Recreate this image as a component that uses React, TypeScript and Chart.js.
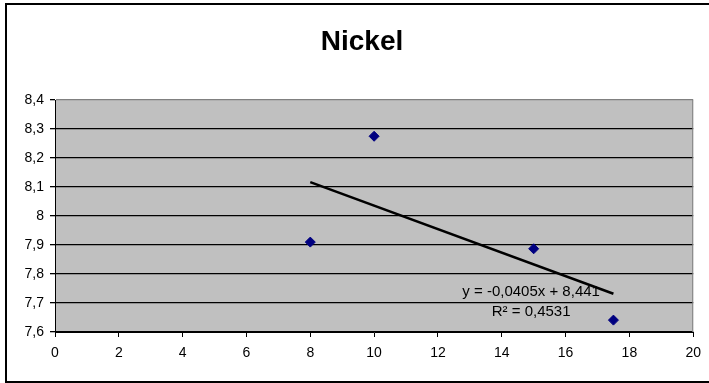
import React, { useEffect, useRef } from "react";
import { Chart, registerables } from "chart.js";

Chart.register(...registerables);

const chartTitle = "Nickel";
const xValues = [8, 10, 15, 17.5];
const yValues = [7.91, 8.275, 7.887, 7.641];
const trendX = [8, 17.5];
const trendY = [8.117, 7.732];
const equationLines = ["y = -0,0405x + 8,441", "R² = 0,4531"];
const xMin = 0;
const xMax = 20;
const xStep = 2;
const yMin = 7.6;
const yMax = 8.4;
const yStep = 0.1;

const FONT = "'Liberation Sans', Arial, Helvetica, sans-serif";
const fmt = (v: number) => String(Number(Number(v).toFixed(1))).replace(".", ",");

const decor = {
  id: "decor",
  beforeDraw(chart: any) {
    const { ctx, chartArea: a } = chart;
    ctx.save();
    ctx.fillStyle = "#ffffff";
    ctx.fillRect(0, 0, chart.width, chart.height);
    ctx.fillStyle = "#C0C0C0";
    ctx.fillRect(a.left, a.top, a.right - a.left, a.bottom - a.top);
    ctx.strokeStyle = "#000";
    ctx.lineWidth = 2;
    ctx.strokeRect(6, 4, 706, 378);
    ctx.fillStyle = "#000";
    ctx.font = `bold 28px ${FONT}`;
    ctx.textAlign = "center";
    ctx.textBaseline = "alphabetic";
    ctx.fillText(chartTitle, 362, 50);
    ctx.restore();
  },
  beforeDatasetsDraw(chart: any) {
    const { ctx, chartArea: a } = chart;
    ctx.save();
    ctx.strokeStyle = "#808080";
    ctx.lineWidth = 1;
    ctx.beginPath();
    ctx.moveTo(a.right - 0.5, a.top);
    ctx.lineTo(a.right - 0.5, a.bottom);
    ctx.stroke();
    ctx.restore();
  },
  afterDatasetsDraw(chart: any) {
    const { ctx } = chart;
    const xs = chart.scales.x;
    const ys = chart.scales.y;
    ctx.save();
    ctx.fillStyle = "#000";
    ctx.font = `15px ${FONT}`;
    ctx.textAlign = "center";
    ctx.textBaseline = "alphabetic";
    const cx = xs.getPixelForValue(14.92);
    const y0 = ys.getPixelForValue(7.724);
    ctx.fillText(equationLines[0], cx, y0);
    ctx.fillText(equationLines[1], cx, y0 + 20);
    ctx.restore();
  },
};

export default function App() {
  const ref = useRef<HTMLCanvasElement>(null);
  useEffect(() => {
    const chart = new Chart(ref.current as HTMLCanvasElement, {
      type: "scatter",
      data: {
        datasets: [
          {
            label: "Nickel",
            data: xValues.map((x, i) => ({ x, y: yValues[i] })),
            pointStyle: "rectRot",
            pointRadius: 5,
            backgroundColor: "#000080",
            borderColor: "#000080",
            borderWidth: 1,
          },
          {
            label: "Trend",
            data: trendX.map((x, i) => ({ x, y: trendY[i] })),
            showLine: true,
            borderColor: "#000",
            borderWidth: 2.5,
            pointRadius: 0,
            fill: false,
          },
        ],
      } as any,
      options: {
        responsive: false,
        animation: false,
        devicePixelRatio: 1,
        layout: { padding: { left: 0, top: 100, right: 15, bottom: 0 } },
        plugins: {
          legend: { display: false },
          tooltip: { enabled: false },
          title: { display: false },
        },
        scales: {
          x: {
            type: "linear",
            position: "bottom",
            min: xMin,
            max: xMax,
            ticks: {
              stepSize: xStep,
              color: "#000",
              font: { family: FONT, size: 14 },
              padding: 8,
              maxRotation: 0,
              autoSkip: false,
              callback: (v: any) => String(v),
            },
            grid: {
              drawOnChartArea: false,
              drawTicks: true,
              tickLength: 5,
              color: "#000",
              tickColor: "#000",
            },
            border: { display: true, color: "#000", width: 1 },
            afterFit: (s: any) => {
              s.height = 51;
            },
          },
          y: {
            type: "linear",
            min: yMin,
            max: yMax,
            ticks: {
              stepSize: yStep,
              color: "#000",
              font: { family: FONT, size: 14 },
              padding: 6,
              callback: (v: any) => fmt(v),
            },
            grid: {
              drawOnChartArea: true,
              drawTicks: true,
              tickLength: 5,
              lineWidth: 1.3,
              color: (c: any) =>
                c.tick && Math.abs(c.tick.value - yMax) < 1e-6 ? "#808080" : "#000",
              tickColor: "#000",
            },
            border: { display: true, color: "#000", width: 1 },
            afterFit: (s: any) => {
              s.width = 55;
            },
          },
        },
      } as any,
      plugins: [decor],
    });
    return () => chart.destroy();
  }, []);
  return (
    <div style={{ position: "absolute", left: 0, top: 0, width: 709, height: 383, background: "#fff" }}>
      <canvas ref={ref} width={709} height={383} style={{ display: "block", width: 709, height: 383 }} />
    </div>
  );
}
